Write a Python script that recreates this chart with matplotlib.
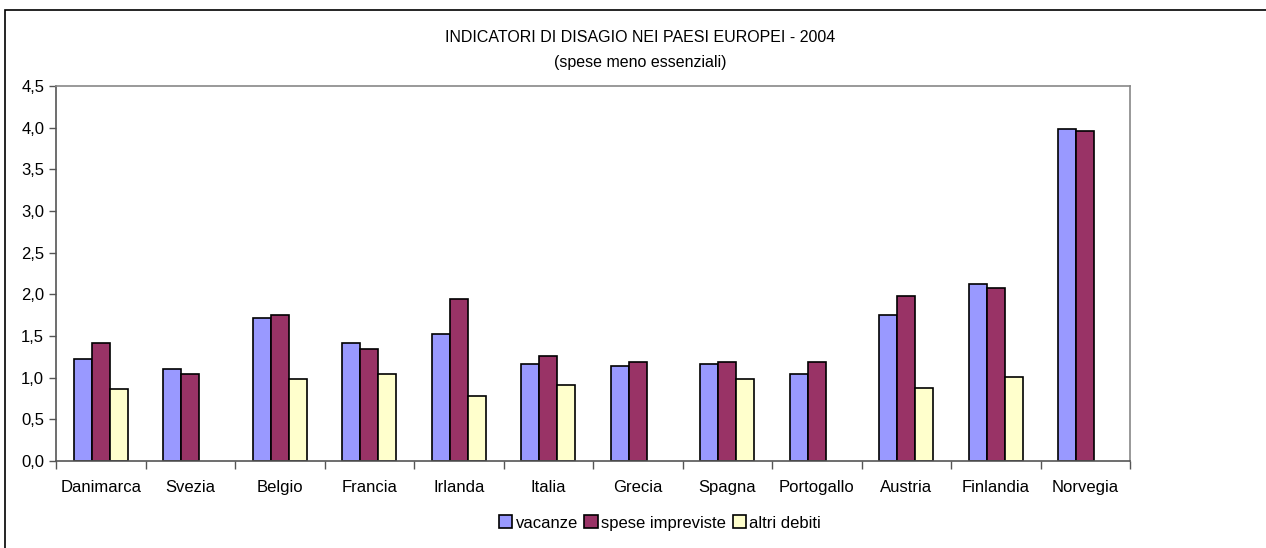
import matplotlib
matplotlib.use("Agg")
import matplotlib.pyplot as plt
import numpy as np
from matplotlib.patches import Rectangle
from matplotlib.ticker import FixedLocator, FuncFormatter

# Data (None = no bar shown)
paesi = ['Danimarca', 'Svezia', 'Belgio', 'Francia', 'Irlanda', 'Italia',
         'Grecia', 'Spagna', 'Portogallo', 'Austria', 'Finlandia', 'Norvegia']
vacanze = [1.22, 1.11, 1.72, 1.42, 1.52, 1.16, 1.14, 1.16, 1.04, 1.75, 2.13, 3.99]
spese_impreviste = [1.42, 1.04, 1.75, 1.34, 1.95, 1.26, 1.19, 1.19, 1.19, 1.98, 2.08, 3.96]
altri_debiti = [0.86, None, 0.99, 1.04, 0.78, 0.91, None, 0.99, None, 0.88, 1.01, None]

plt.rcParams['font.family'] = ['Liberation Sans', 'DejaVu Sans']

fig = plt.figure(figsize=(12.66, 5.48), dpi=100)
W, H = 1266, 548
ax = fig.add_axes([56 / W, 1 - 461 / H, (1130 - 56) / W, (461 - 86) / H])

x = np.arange(len(paesi))
w = 0.2
altri = np.array([np.nan if v is None else v for v in altri_debiti])
ax.bar(x - w, vacanze, w, color='#9999FF', edgecolor='black', linewidth=1.2, label='vacanze')
ax.bar(x, spese_impreviste, w, color='#993366', edgecolor='black', linewidth=1.2, label='spese impreviste')
ax.bar(x + w, altri, w, color='#FFFFCC', edgecolor='black', linewidth=1.2, label='altri debiti')

ax.set_xlim(-0.5, len(paesi) - 0.5)
ax.set_ylim(0, 4.5)
ax.set_yticks(np.arange(0, 4.51, 0.5))
ax.yaxis.set_major_formatter(FuncFormatter(lambda v, p: f"{v:.1f}".replace('.', ',')))
ax.set_xticks(x)
ax.set_xticklabels(paesi)
ax.xaxis.set_minor_locator(FixedLocator(np.arange(-0.5, len(paesi), 1)))
ax.tick_params(axis='x', which='major', length=0, pad=14, labelsize=12)
ax.tick_params(axis='x', which='minor', length=6, width=1, color='#555555')
ax.tick_params(axis='y', length=5, width=1, labelsize=12, color='#555555')

for s in ['top', 'right']:
    ax.spines[s].set_color('#888888')
    ax.spines[s].set_linewidth(1.2)
for s in ['left', 'bottom']:
    ax.spines[s].set_color('#555555')
    ax.spines[s].set_linewidth(1.2)

fig.text(640 / W, 1 - 37 / H, 'INDICATORI DI DISAGIO NEI PAESI EUROPEI - 2004',
         ha='center', va='center', fontsize=11.5)
fig.text(640 / W, 1 - 62 / H, '(spese meno essenziali)',
         ha='center', va='center', fontsize=11.5)

fig.legend(loc='center', bbox_to_anchor=(660 / W, 1 - 523 / H), ncol=3, frameon=False,
           fontsize=12, handlelength=0.8, handleheight=0.8, handletextpad=0.2,
           columnspacing=0.4)

# outer chart border
fig.add_artist(Rectangle((5 / W, -0.05), 1.2, 1 - 10 / H + 0.05, transform=fig.transFigure,
                         fill=False, edgecolor='black', linewidth=1.2))

fig.savefig('out.png', dpi=100)
